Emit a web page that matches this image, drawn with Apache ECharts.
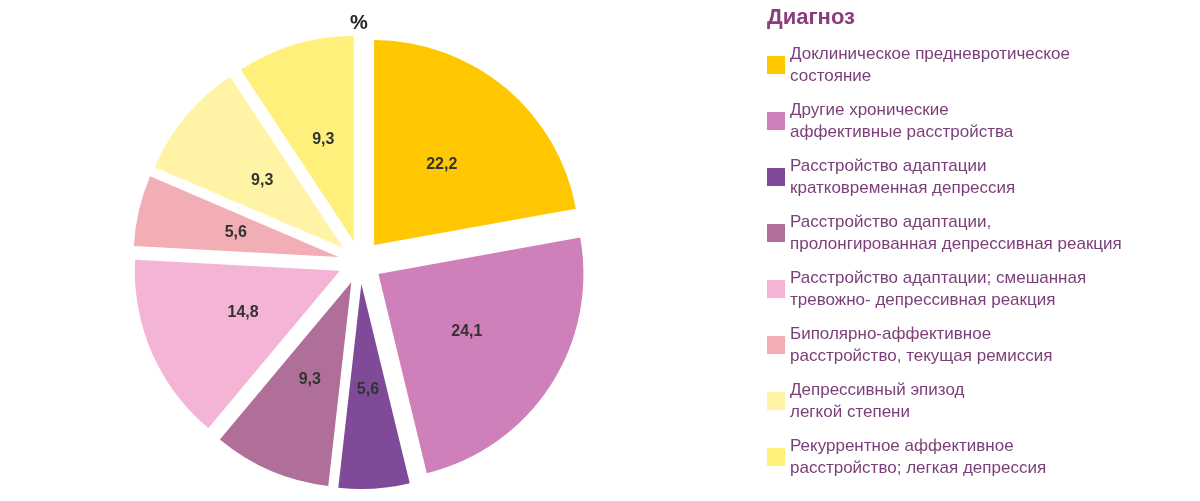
<!DOCTYPE html>
<html>
<head>
<meta charset="utf-8">
<script src="https://cdn.jsdelivr.net/npm/echarts@6/dist/echarts.min.js"></script>
<style>
  html, body { margin: 0; padding: 0; background: #fff; }
  #chart { width: 1200px; height: 501px; }
</style>
</head>
<body>
<div id="chart"></div>
<script>
// диагнозы и доли, %
const diagnoses = [
  "Доклиническое предневротическое\nсостояние",
  "Другие хронические\nаффективные расстройства",
  "Расстройство адаптации\nкратковременная депрессия",
  "Расстройство адаптации,\nпролонгированная депрессивная реакция",
  "Расстройство адаптации; смешанная\nтревожно- депрессивная реакция",
  "Биполярно-аффективное\nрасстройство, текущая ремиссия",
  "Депрессивный эпизод\nлегкой степени",
  "Рекуррентное аффективное\nрасстройство; легкая депрессия"
];
const shares = [22.2, 24.1, 5.6, 9.3, 14.8, 5.6, 9.3, 9.3];
const colors = ["#FFC700", "#CF7FB9", "#7F4A97", "#B06F98", "#F3B4D6", "#F2AEB5", "#FFF4A6", "#FFF07C"];

const chart = echarts.init(document.getElementById("chart"));

const option = {
  color: colors,
  title: [
    {
      text: "%",
      left: 345,
      top: 8,
      textStyle: { fontFamily: "Arial", fontSize: 20, fontWeight: "bold", color: "#222" }
    },
    {
      text: "Диагноз",
      left: 762,
      top: 2,
      textStyle: { fontFamily: "Arial", fontSize: 22, fontWeight: "bold", color: "#8A3C7E" }
    }
  ],
  legend: {
    orient: "vertical",
    left: 762,
    top: 38,
    itemWidth: 18,
    itemHeight: 18,
    itemGap: 12,
    icon: "rect",
    data: diagnoses,
    textStyle: { fontFamily: "Arial", fontSize: 17, color: "#7A3F78", lineHeight: 22 }
  },
  series: [
    {
      type: "pie",
      center: [360, 262],
      radius: [0, 205],
      startAngle: 90,
      clockwise: true,
      selectedMode: "multiple",
      selectedOffset: 22,
      label: {
        position: "inside",
        formatter: (p) => p.value.toFixed(1).replace(".", ","),
        fontFamily: "Arial",
        fontSize: 16,
        fontWeight: "bold",
        color: "#333"
      },
      labelLine: { show: false },
      itemStyle: { borderColor: "#fff", borderWidth: 0 },
      data: diagnoses.map((name, i) => ({ name: name, value: shares[i], selected: true }))
    }
  ]
};

chart.setOption(option);
</script>
</body>
</html>
